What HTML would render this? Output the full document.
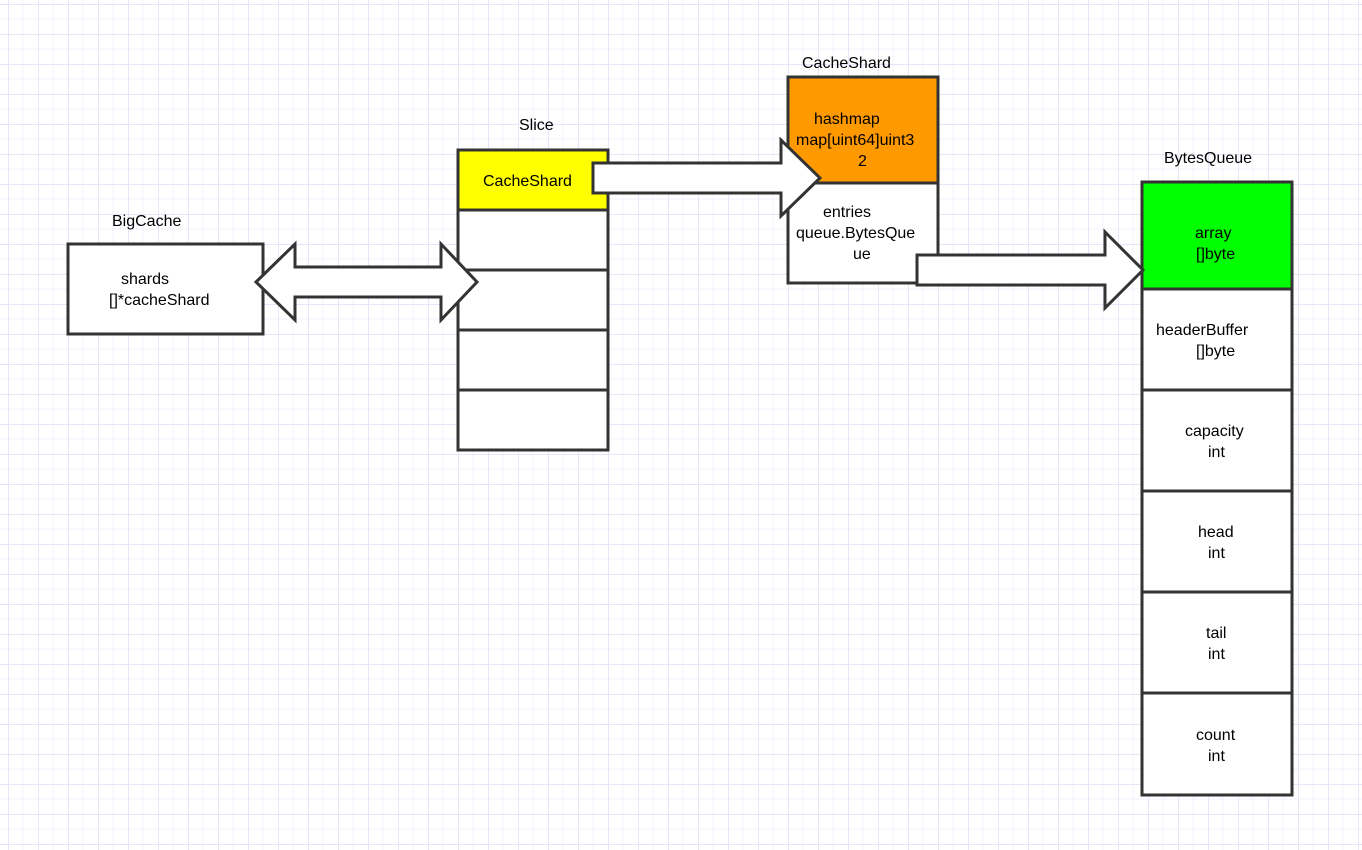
<!DOCTYPE html>
<html><head><meta charset="utf-8"><style>
html,body{margin:0;padding:0;background:#fff;}
svg{display:block;}
text{font-family:"Liberation Sans",Arial,sans-serif;font-size:16px;fill:#000;}
</style></head><body>
<svg width="1362" height="850" xmlns="http://www.w3.org/2000/svg">
<defs>
<pattern id="g" x="8" y="4" width="30" height="30" patternUnits="userSpaceOnUse">
<path d="M15 0V30M0 15H30" stroke="#f1f1fc" stroke-width="1" fill="none"/>
<path d="M0.5 0V30M0 0.5H30" stroke="#e6e6fa" stroke-width="1" fill="none"/>
</pattern>
</defs>
<rect width="1362" height="850" fill="url(#g)"/>
<g stroke="#333" stroke-width="3">
<rect x="68" y="244" width="195" height="90" fill="#fff"/>
<rect x="458" y="150" width="150" height="60" fill="#ffff00"/>
<rect x="458" y="210" width="150" height="60" fill="#fff"/>
<rect x="458" y="270" width="150" height="60" fill="#fff"/>
<rect x="458" y="330" width="150" height="60" fill="#fff"/>
<rect x="458" y="390" width="150" height="60" fill="#fff"/>
<rect x="788" y="77" width="150" height="106" fill="#ff9900"/>
<rect x="788" y="183" width="150" height="100" fill="#fff"/>
<rect x="1142" y="182" width="150" height="107" fill="#00ff00"/>
<rect x="1142" y="289" width="150" height="101" fill="#fff"/>
<rect x="1142" y="390" width="150" height="101" fill="#fff"/>
<rect x="1142" y="491" width="150" height="101" fill="#fff"/>
<rect x="1142" y="592" width="150" height="101" fill="#fff"/>
<rect x="1142" y="693" width="150" height="102" fill="#fff"/>
<path d="M256 282L295 244V267H441V244L477 282L441 320V297H295V320Z" fill="#fff"/>
<path d="M593 163H781V140L820 178L781 216V193H593Z" fill="#fff"/>
<path d="M917 255H1105V232L1143 270L1105 308V285H917Z" fill="#fff"/>
</g>
<text x="112" y="226">BigCache</text>
<text x="121" y="284">shards</text>
<text x="109" y="305">[]*cacheShard</text>
<text x="519" y="130">Slice</text>
<text x="483" y="186">CacheShard</text>
<text x="802" y="68">CacheShard</text>
<text x="814" y="124">hashmap</text>
<text x="796" y="145">map[uint64]uint3</text>
<text x="858" y="166">2</text>
<text x="823" y="217">entries</text>
<text x="796" y="238">queue.BytesQue</text>
<text x="853" y="259">ue</text>
<text x="1164" y="163">BytesQueue</text>
<text x="1195" y="238">array</text>
<text x="1196" y="259">[]byte</text>
<text x="1156" y="335">headerBuffer</text>
<text x="1196" y="356">[]byte</text>
<text x="1185" y="436">capacity</text>
<text x="1208" y="457">int</text>
<text x="1198" y="537">head</text>
<text x="1208" y="558">int</text>
<text x="1206" y="638">tail</text>
<text x="1208" y="659">int</text>
<text x="1196" y="740">count</text>
<text x="1208" y="761">int</text>
</svg>
</body></html>
